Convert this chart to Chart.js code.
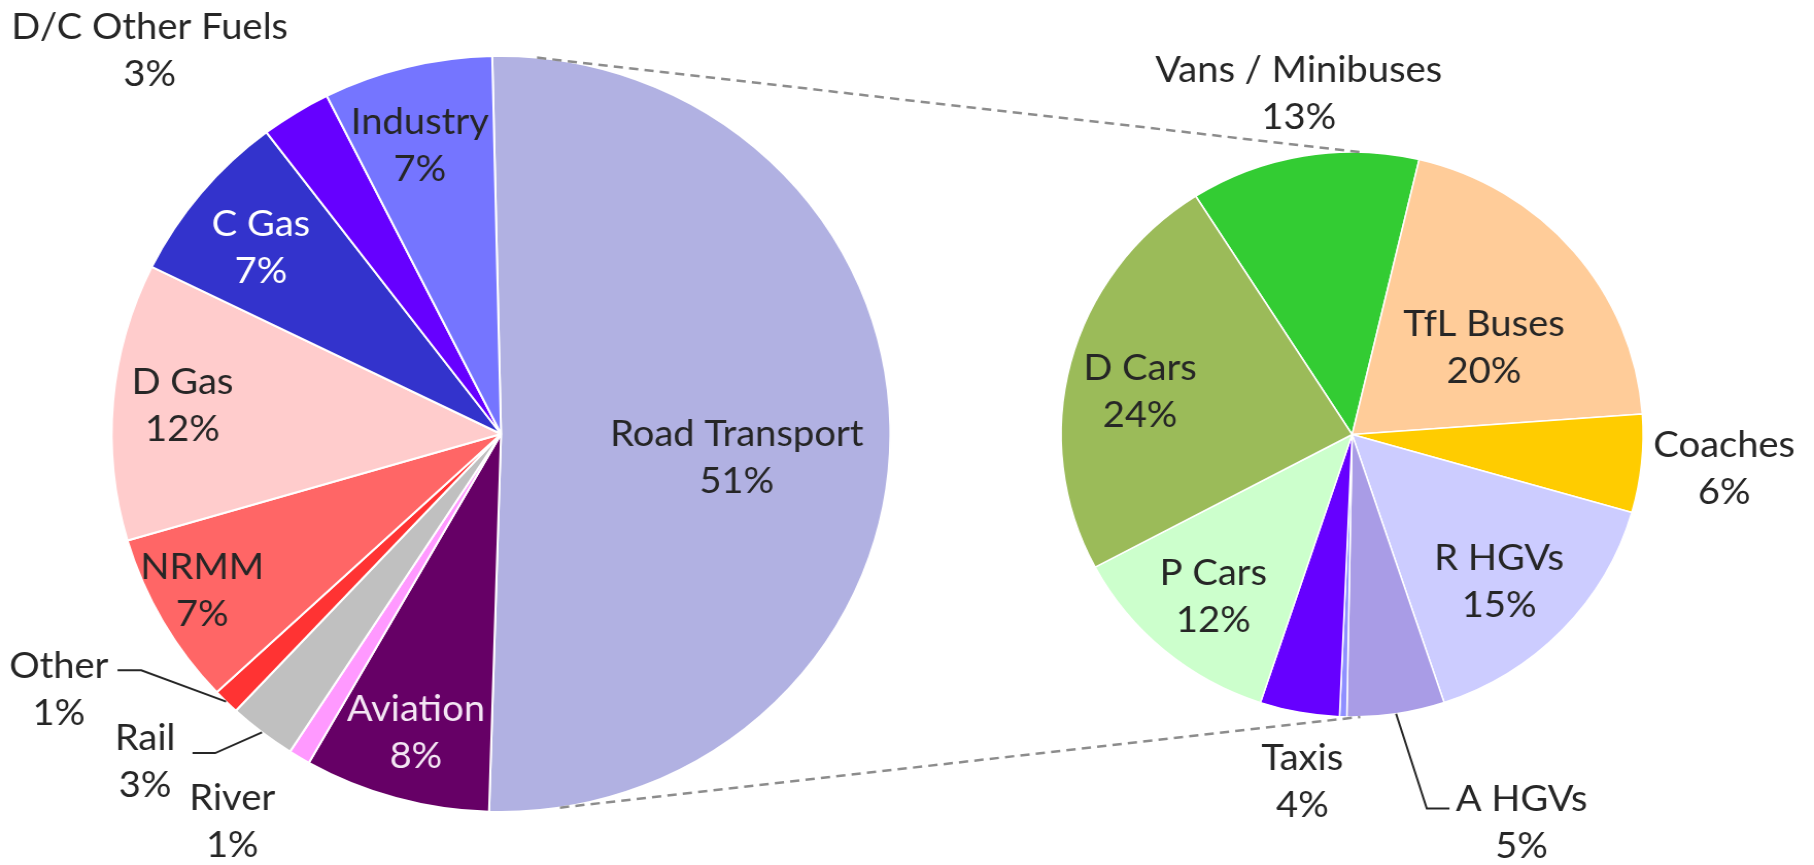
<!DOCTYPE html>
<html>
<head>
<meta charset="utf-8">
<script src="https://cdn.jsdelivr.net/npm/chart.js@4.4.1/dist/chart.umd.min.js"></script>
<style>
  html, body { margin: 0; padding: 0; background: #fff; overflow: hidden; }
  #wrap { position: relative; width: 1814px; height: 865px; }
  #wrap canvas { position: absolute; left: 0; top: 0; }
</style>
</head>
<body>
<div id="wrap">
  <!-- the source picture is stretched ~3% horizontally, so the canvases are too -->
  <canvas id="sourcePie" width="1761" height="865" style="width:1814px;height:865px"></canvas>
  <canvas id="roadPie" width="1761" height="865" style="width:1814px;height:865px"></canvas>
</div>
<script>
// All sources (left pie), clockwise from the top
const sourceLabels = ['Road Transport', 'Aviation', 'River', 'Rail', 'Other', 'NRMM', 'D Gas', 'C Gas', 'D/C Other Fuels', 'Industry'];
const sourceShares = [50.7, 7.7, 0.9, 2.8, 1.1, 7.4, 11.8, 7.4, 2.9, 7.0];
const sourceColors = ['#B1B1E2', '#660066', '#FF99FF', '#C0C0C0', '#FF3333', '#FF6666', '#FFCCCC', '#3333CC', '#6600FF', '#7575FF'];

// Road transport breakdown (right pie), clockwise from the top
const roadLabels = ['Vans / Minibuses', 'TfL Buses', 'Coaches', 'R HGVs', 'A HGVs', 'Motorcycles', 'Taxis', 'P Cars', 'D Cars'];
const roadShares = [12.7, 20.1, 5.6, 15.4, 5.4, 0.4, 4.4, 12.1, 23.7];
const roadColors = ['#33CC33', '#FFCC99', '#FFCC00', '#CCCCFF', '#A99CE6', '#8F8FFF', '#6600FF', '#CCFFCC', '#9BBB59'];

const CANVAS_W = 1761, CANVAS_H = 865;
const FONT = '37px Lato';
const LINE_H = 47;
const TEXT_DARK = '#262626';

// label placement: f = fraction of radius along the slice's mid angle, dx/dy nudges
const sourceLabelStyle = [
    { f: 0.6, dx: 2, dy: 23 },
    { f: 0.8, dx: -1, dy: 7, color: '#F4E6F4' },
    { f: 1.2, dx: -26, dy: 0 },
    { f: 1.2, dx: -67, dy: -30, leader: [68, -9, 46] },
    { f: 1.2, dx: -109, dy: -66, leader: [80, -19, 57] },
    { f: 0.85, dx: -11, dy: -3 },
    { f: 0.8, dx: -8, dy: -2 },
    { f: 0.8, dx: 0, dy: 6, color: '#FFFFFF' },
    { f: 1.2, dx: -102, dy: 2 },
    { f: 0.8, dx: -6, dy: 5 }
];
const roadLabelStyle = [
    { f: 1.25, dx: 7, dy: 7 },
    { f: 0.6, dx: -1, dy: 23 },
    { f: 1.25, dx: 10, dy: -2 },
    { f: 0.7, dx: 0, dy: 10 },
    { f: 1.3, dx: 109, dy: 25, leader: [-92, -14, -70] },
    null,
    { f: 1.2, dx: 13, dy: 14 },
    { f: 0.75, dx: 2, dy: 0 },
    { f: 0.75, dx: -1, dy: 11 }
];

function pieLayout(cx, cy, r, bw) {
    const half = r + bw / 2;
    return { left: cx - half, right: CANVAS_W - (cx + half), top: cy - half, bottom: CANVAS_H - (cy + half) };
}

function drawLabels(chart, names, styles) {
    const ctx = chart.ctx;
    const meta = chart.getDatasetMeta(0);
    const values = chart.data.datasets[0].data;
    const total = values.reduce((a, b) => a + b, 0);
    ctx.save();
    ctx.font = FONT;
    ctx.textAlign = 'center';
    ctx.textBaseline = 'middle';
    meta.data.forEach((arc, i) => {
        const st = styles[i];
        if (!st) return;
        const mid = (arc.startAngle + arc.endAngle) / 2;
        const r = arc.outerRadius;
        const tx = arc.x + Math.cos(mid) * r * st.f + st.dx;
        const ty = arc.y + Math.sin(mid) * r * st.f + st.dy;
        if (st.leader) {
            const [ex, ey, hx] = st.leader;
            ctx.beginPath();
            ctx.moveTo(arc.x + Math.cos(mid) * r, arc.y + Math.sin(mid) * r);
            ctx.lineTo(tx + ex, ty + ey);
            ctx.lineTo(tx + hx, ty + ey);
            ctx.strokeStyle = TEXT_DARK;
            ctx.lineWidth = 2;
            ctx.stroke();
        }
        ctx.fillStyle = st.color || TEXT_DARK;
        ctx.fillText(names[i], tx, ty - LINE_H / 2);
        ctx.fillText(Math.round(values[i] / total * 100) + '%', tx, ty + LINE_H / 2);
    });
    ctx.restore();
}

// point on a pie rim, angle in degrees clockwise from 12 o'clock
function rimPoint(arc, deg) {
    const a = (deg - 90) * Math.PI / 180;
    return [arc.x + Math.cos(a) * arc.outerRadius, arc.y + Math.sin(a) * arc.outerRadius];
}

function pieOptions(rotation, padding) {
    return {
        responsive: false,
        animation: false,
        events: [],
        rotation: rotation,
        layout: { padding: padding },
        plugins: { legend: { display: false }, tooltip: { enabled: false } }
    };
}

const sourceChart = new Chart(document.getElementById('sourcePie'), {
    type: 'pie',
    data: {
        labels: sourceLabels,
        datasets: [{ data: sourceShares, backgroundColor: sourceColors, borderColor: '#FFFFFF', borderWidth: 2 }]
    },
    options: pieOptions(-1.3, pieLayout(486.4, 434, 378, 2)),
    plugins: [{
        id: 'sourceLabels',
        afterDatasetsDraw(chart) { drawLabels(chart, sourceLabels, sourceLabelStyle); }
    }]
});

const roadChart = new Chart(document.getElementById('roadPie'), {
    type: 'pie',
    data: {
        labels: roadLabels,
        datasets: [{ data: roadShares, backgroundColor: roadColors, borderColor: '#FFFFFF', borderWidth: 1.5 }]
    },
    options: pieOptions(-32.5, pieLayout(1312.6, 434.5, 282.5, 1.5)),
    plugins: [{
        id: 'roadLabels',
        afterDatasetsDraw(chart) {
            // dashed connectors between the two pies
            const big = sourceChart.getDatasetMeta(0).data[0];
            const small = chart.getDatasetMeta(0).data[0];
            const ctx = chart.ctx;
            ctx.save();
            ctx.strokeStyle = '#8C8C8C';
            ctx.lineWidth = 2.5;
            ctx.setLineDash([9, 6]);
            [[5.3, 1.6], [171.3, 178.4]].forEach(([a1, a2]) => {
                const p1 = rimPoint(big, a1), p2 = rimPoint(small, a2);
                ctx.beginPath();
                ctx.moveTo(p1[0], p1[1]);
                ctx.lineTo(p2[0], p2[1]);
                ctx.stroke();
            });
            ctx.restore();
            drawLabels(chart, roadLabels, roadLabelStyle);
        }
    }]
});
</script>
</body>
</html>
